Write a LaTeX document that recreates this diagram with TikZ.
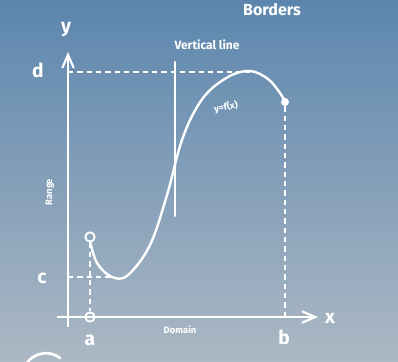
\documentclass[tikz,border=0pt]{standalone}
\usepackage{fontspec}
\setmainfont{Fira Sans}
\usetikzlibrary{arrows.meta,positioning,calc}
\definecolor{boardtop}{RGB}{92,134,174}
\definecolor{boardbot}{RGB}{172,184,196}

\begin{document}
\begin{tikzpicture}[
  x=0.75pt, y=-0.75pt,
  axis/.style={draw=white, line width=1.6pt, -{Straight Barb[length=3.5mm, width=3mm]}},
  guide/.style={draw=white, line width=1.3pt, dash pattern=on 4pt off 3pt},
  curve/.style={draw=white, line width=1.8pt, line cap=round},
  chalk/.style={text=white, inner sep=1pt, font=\bfseries},
  hole/.style={circle, draw=white, line width=1.4pt, fill=none, inner sep=0pt, minimum size=7pt},
  dot/.style={circle, fill=white, inner sep=0pt, minimum size=6pt}
]
  % Board
  \useasboundingbox (0,0) rectangle (398,361);
  \shade[top color=boardtop, bottom color=boardbot] (0,0) rectangle (398,361);
  % Axes
  \coordinate (ybot) at (68,327);
  \coordinate (ytop) at (68,52);
  \coordinate (xleft) at (57,317);
  \coordinate (xright) at (318,317);
  \draw[axis] (ybot) -- (ytop);
  \draw[axis] (xleft) -- (xright);
  \node[chalk, font=\Large\bfseries] (ylab) at (66,30) {y};
  \node[chalk, font=\Large\bfseries] (xlab) at (330,318) {x};
  % Points on the graph
  \node[hole] (pa) at (90,237) {};
  \node[hole] (axa) at (90,317) {};
  \node[dot] (pb) at (285,102) {};
  \coordinate (axb) at (285,317);
  \coordinate (top) at (250,72);
  \coordinate (dy) at (68,72);
  \coordinate (low) at (114,277);
  \coordinate (cy) at (68,277);
  % Guide lines
  \draw[guide] (dy) -- (top);
  \draw[guide] (cy) -- (low);
  \draw[guide] (pa) -- (axa);
  \draw[guide] (pb) -- (axb);
  % y = f(x)
  \draw[curve] plot[smooth, tension=0.6] coordinates {(90,241) (97,263) (112,277) (128,275)
    (150,245) (167,195) (183,137) (203,98) (228,77) (250,71) (268,79) (280,93) (285,102)};
  % Vertical line test
  \coordinate (vtop) at (175,62);
  \coordinate (vbot) at (175,216);
  \draw[curve, line width=1.6pt] (vtop) -- (vbot);
  \node[chalk, font=\small\bfseries] (vlab) at (207,45) {Vertical line};
  \node[chalk, font=\scriptsize\bfseries, rotate=12] (flab) at (226,107) {y=f(x)};
  % Labels
  \node[chalk, font=\Large\bfseries] (dlab) at (38,70) {d};
  \node[chalk, font=\Large\bfseries] (clab) at (42,278) {c};
  \node[chalk, font=\Large\bfseries] (alab) at (90,340) {a};
  \node[chalk, font=\Large\bfseries] (blab) at (284,337) {b};
  \node[chalk, font=\scriptsize\bfseries] (domlab) at (180,330) {Domain};
  \node[chalk, font=\scriptsize\bfseries, rotate=90] (rnglab) at (50,192) {Range};
  \node[chalk, font=\large\bfseries] (border) at (272,10) {Borders};
  % Cut-off mark at the corner
  \draw[curve, line width=2pt] (26,364) .. controls (34,352) and (50,350) .. (60,358);
\end{tikzpicture}
\end{document}
